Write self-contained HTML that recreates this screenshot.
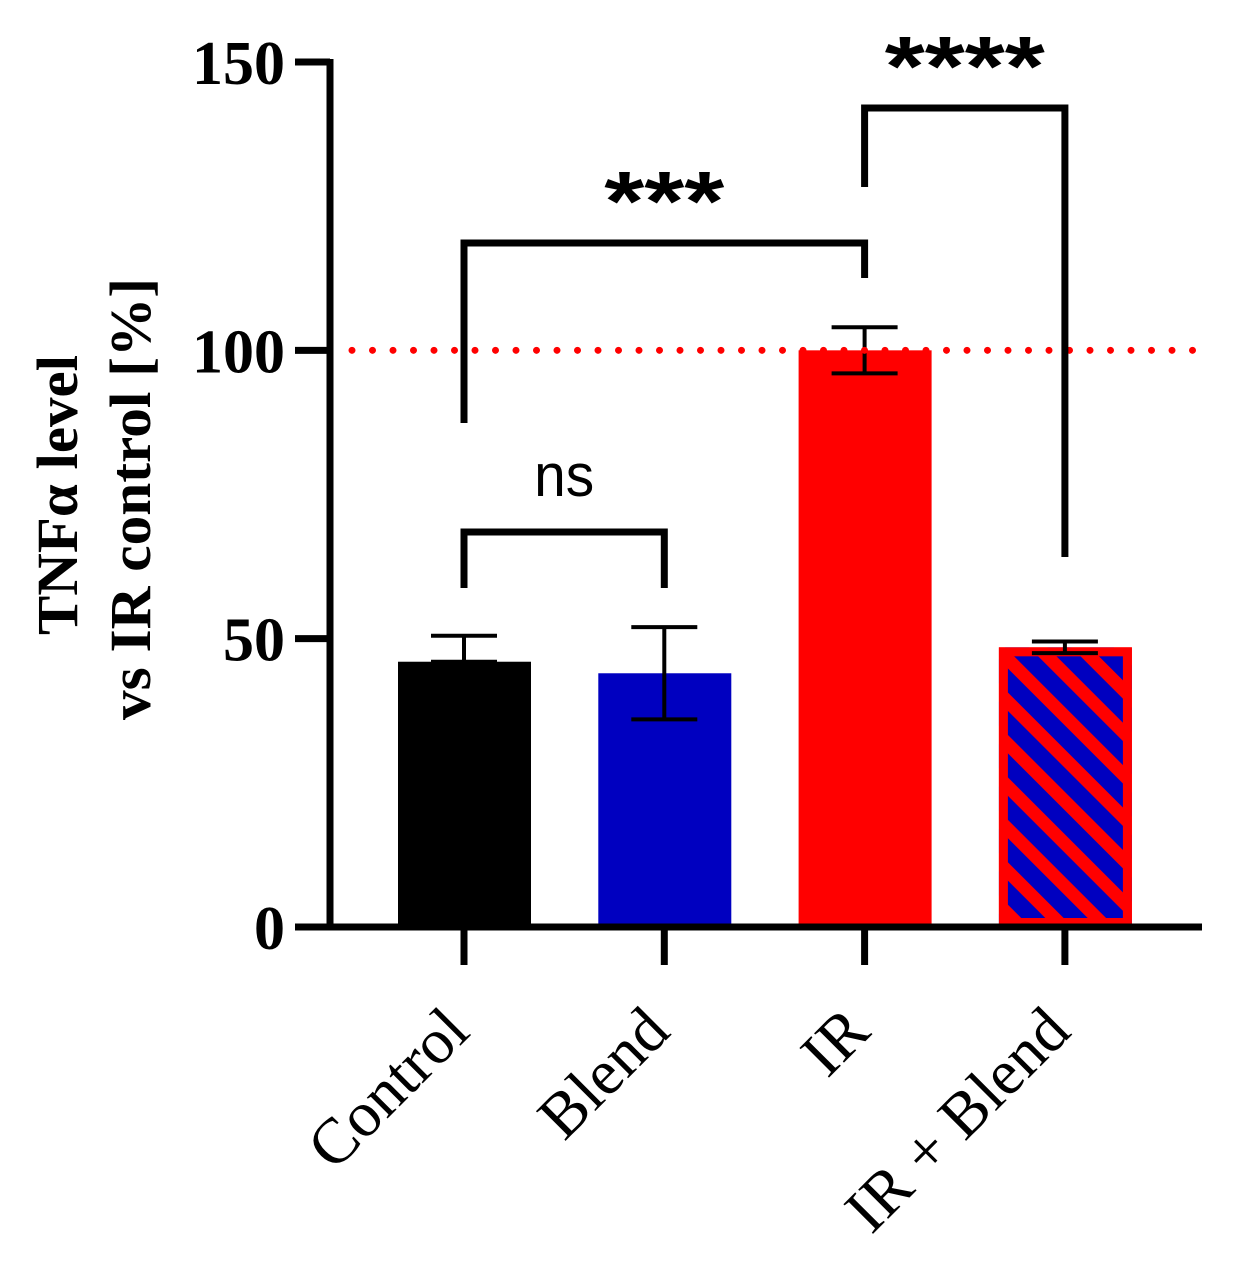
<!DOCTYPE html>
<html><head><meta charset="utf-8"><style>
html,body{margin:0;padding:0;background:#fff;}
svg{display:block;}
</style></head><body>
<svg id="chart" width="1251" height="1266" viewBox="0 0 1251 1266" xmlns="http://www.w3.org/2000/svg">
<defs>
<pattern id="hatch" patternUnits="userSpaceOnUse" width="30" height="30" patternTransform="rotate(-45)">
<rect width="30" height="30" fill="#0000c0"/>
<rect width="13" height="30" fill="#ff0000"/>
</pattern>
</defs>
<g id="plot"></g>
</svg>
<script>
const categories = ["Control", "Blend", "IR", "IR + Blend"];
const means = [46, 44, 100, 48.5];
const errLow = [46, 36, 96, 47.5];
const errHigh = [50.5, 52, 104, 49.5];
const yTicks = [0, 50, 100, 150];
const sigLabels = ["ns", "***", "****"];

const NS = "http://www.w3.org/2000/svg";
const g = document.getElementById("plot");
const y0 = 927, pxPer = 865/150;
function yS(v){ return y0 - v*pxPer; }
function xC(i){ return 464 + i*200.3; }
function el(tag, attrs, parent){
  const e = document.createElementNS(NS, tag);
  for (const k in attrs) e.setAttribute(k, attrs[k]);
  (parent||g).appendChild(e);
  return e;
}
const fills = ["#000000", "#0000c0", "#ff0000", "url(#hatch)"];
categories.forEach((c,i)=>{
  const top = yS(means[i]);
  const b = el("rect", {x: xC(i)-66, y: top, width: 133, height: y0-top, fill: fills[i]});
  
  
  if (i===3){
    const o = el("rect", {x: xC(i)-66+4.5, y: top+4.5, width: 124, height: y0-top-9, fill: "none", stroke: "#ff0000", "stroke-width": 9});
    
    
  }
});
categories.forEach((c,i)=>{
  const eg = el("g", {stroke: "#000", "stroke-width": 4, fill: "none"});
  
  
  const x = xC(i), lo = yS(errLow[i]), hi = yS(errHigh[i]);
  el("line", {x1: x, x2: x, y1: lo, y2: hi}, eg);
  el("line", {x1: x-33, x2: x+33, y1: hi, y2: hi}, eg);
  el("line", {x1: x-33, x2: x+33, y1: lo, y2: lo}, eg);
});
const ref = el("line", {x1: 352, x2: 1200, y1: yS(100), y2: yS(100), stroke: "#ff0000", "stroke-width": 7, "stroke-linecap": "round", "stroke-dasharray": "0 20.5"});


const ax = el("g", {stroke: "#000", "stroke-width": 7, fill: "none"});


el("line", {x1: 330, x2: 330, y1: yS(150)-3, y2: y0+3}, ax);
el("line", {x1: 295, x2: 1202, y1: y0, y2: y0}, ax);
yTicks.forEach(v=>{
  el("line", {x1: 295, x2: 330, y1: yS(v), y2: yS(v)}, ax);
  const t = el("text", {x: 285, y: yS(v)+22, "text-anchor": "end", "font-family": "Liberation Serif, serif", "font-weight": "bold", "font-size": 62, fill: "#000", stroke: "none"});
  t.textContent = v;
  
  
});
categories.forEach((c,i)=>{
  el("line", {x1: xC(i), x2: xC(i), y1: y0, y2: 965}, ax);
  const x = xC(i)+8, y = 1034;
  const t = el("text", {x: x, y: y, "text-anchor": "end", transform: `rotate(-45 ${x} ${y})`, "font-family": "Liberation Serif, serif", "font-size": 64, fill: "#000", stroke: "none"});
  t.textContent = c;
  
  
});
const yt = el("text", {transform: "translate(77 495) rotate(-90)", "text-anchor": "middle", textLength: 280, lengthAdjust: "spacingAndGlyphs", "font-family": "Liberation Serif, serif", "font-weight": "bold", "font-size": 58, fill: "#000"});
yt.textContent = "TNFα level";


const yt2 = el("text", {transform: "translate(150 499) rotate(-90)", "text-anchor": "middle", textLength: 442, lengthAdjust: "spacingAndGlyphs", "font-family": "Liberation Serif, serif", "font-weight": "bold", "font-size": 58, fill: "#000"});
yt2.textContent = "vs IR control [%]";


const brackets = [
  {a:0, b:1, top:532, la:588, lb:588, ty:496, size:60, w:"normal", len:60},
  {a:0, b:2, top:243, la:423, lb:278, ty:230, size:84, w:"bold", len:120},
  {a:2, b:3, top:108, la:187, lb:557, ty:95, size:84, w:"bold", len:160}
];
brackets.forEach((br,k)=>{
  const bg = el("g", {});
  
  
  const xa = xC(br.a), xb = xC(br.b);
  el("polyline", {points: `${xa},${br.la} ${xa},${br.top} ${xb},${br.top} ${xb},${br.lb}`, fill: "none", stroke: "#000", "stroke-width": 7}, bg);
  const t = el("text", {x: (xa+xb)/2, y: br.ty, "text-anchor": "middle", textLength: br.len, lengthAdjust: "spacingAndGlyphs", "font-family": "Liberation Sans, sans-serif", "font-size": br.size, "font-weight": br.w, fill: "#000"}, bg);
  t.textContent = sigLabels[k];
  
  
});
</script>
</body></html>
